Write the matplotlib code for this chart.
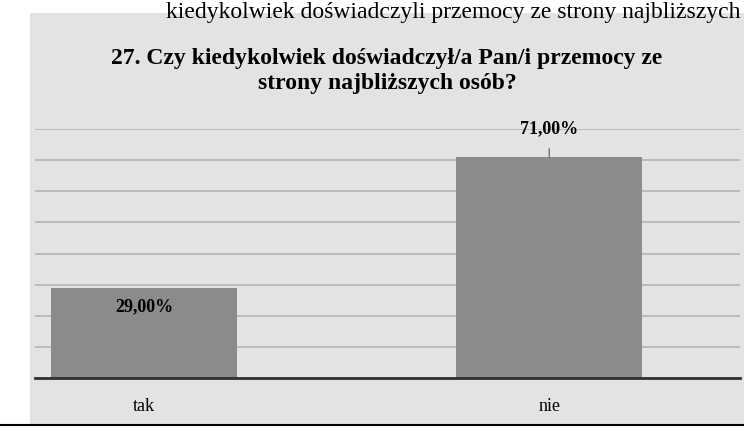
import matplotlib.pyplot as plt
from matplotlib.patches import Rectangle
from matplotlib.lines import Line2D

categories = ['tak', 'nie']
values = [29.0, 71.0]
value_labels = ['29,00%', '71,00%']

title = 'Czy kiedykolwiek doświadczył/a Pan/i przemocy ze\nstrony najbliższych osób?'

plt.rcParams['font.family'] = ['Liberation Serif', 'DejaVu Serif']

fig = plt.figure(figsize=(7.44, 4.45), dpi=100)
fig.patch.set_facecolor('white')

# grey chart area of the scanned page
fig.patches.append(Rectangle((0.04, 0.045), 0.96, 0.925, transform=fig.transFigure,
                             facecolor='#e3e3e3', edgecolor='none', zorder=-10))
fig.lines.append(Line2D([0.0, 1.0], [0.045, 0.045], transform=fig.transFigure,
                        color='black', lw=1.5, zorder=-5))

# page text above the chart
fig.text(0.995, 0.972, 'kiedykolwiek doświadczyli przemocy ze strony najbliższych',
         fontsize=17, va='center', ha='right')

ax = fig.add_axes([0.047, 0.15, 0.947, 0.56])
ax.set_zorder(2)
ax.set_facecolor('none')

x = range(len(categories))
bars = ax.bar(x, values, 0.46, color='#8b8b8b', zorder=3)

ax.set_ylim(0, 80)
ax.set_xlim(-0.27, 1.47)
ax.set_yticks(range(0, 81, 10))
ax.yaxis.grid(True, color='#b4b4b4', lw=1.2, zorder=1)
ax.tick_params(axis='y', left=False, labelleft=False)
ax.tick_params(axis='x', length=0, labelsize=13, pad=14)
ax.set_xticks(list(x), categories)
for s in ['top', 'right', 'left']:
    ax.spines[s].set_visible(False)
ax.spines['bottom'].set_color('#303030')
ax.spines['bottom'].set_linewidth(2)
ax.spines['bottom'].set_zorder(4)

# data labels
ax.text(0, values[0] - 6, value_labels[0], ha='center', va='center',
        fontsize=13, fontweight='bold', zorder=5)
ax.annotate(value_labels[1], xy=(1, values[1]), xytext=(1, values[1] + 9),
            ha='center', va='center', fontsize=13, fontweight='bold',
            arrowprops=dict(arrowstyle='-', color='#555555', lw=0.8,
                            shrinkA=6, shrinkB=0), zorder=5)

fig.text(0.52, 0.84, '27. ' + title, ha='center', va='center', fontsize=17,
         fontweight='bold', linespacing=1.25)

plt.savefig('out.png', dpi=100)
